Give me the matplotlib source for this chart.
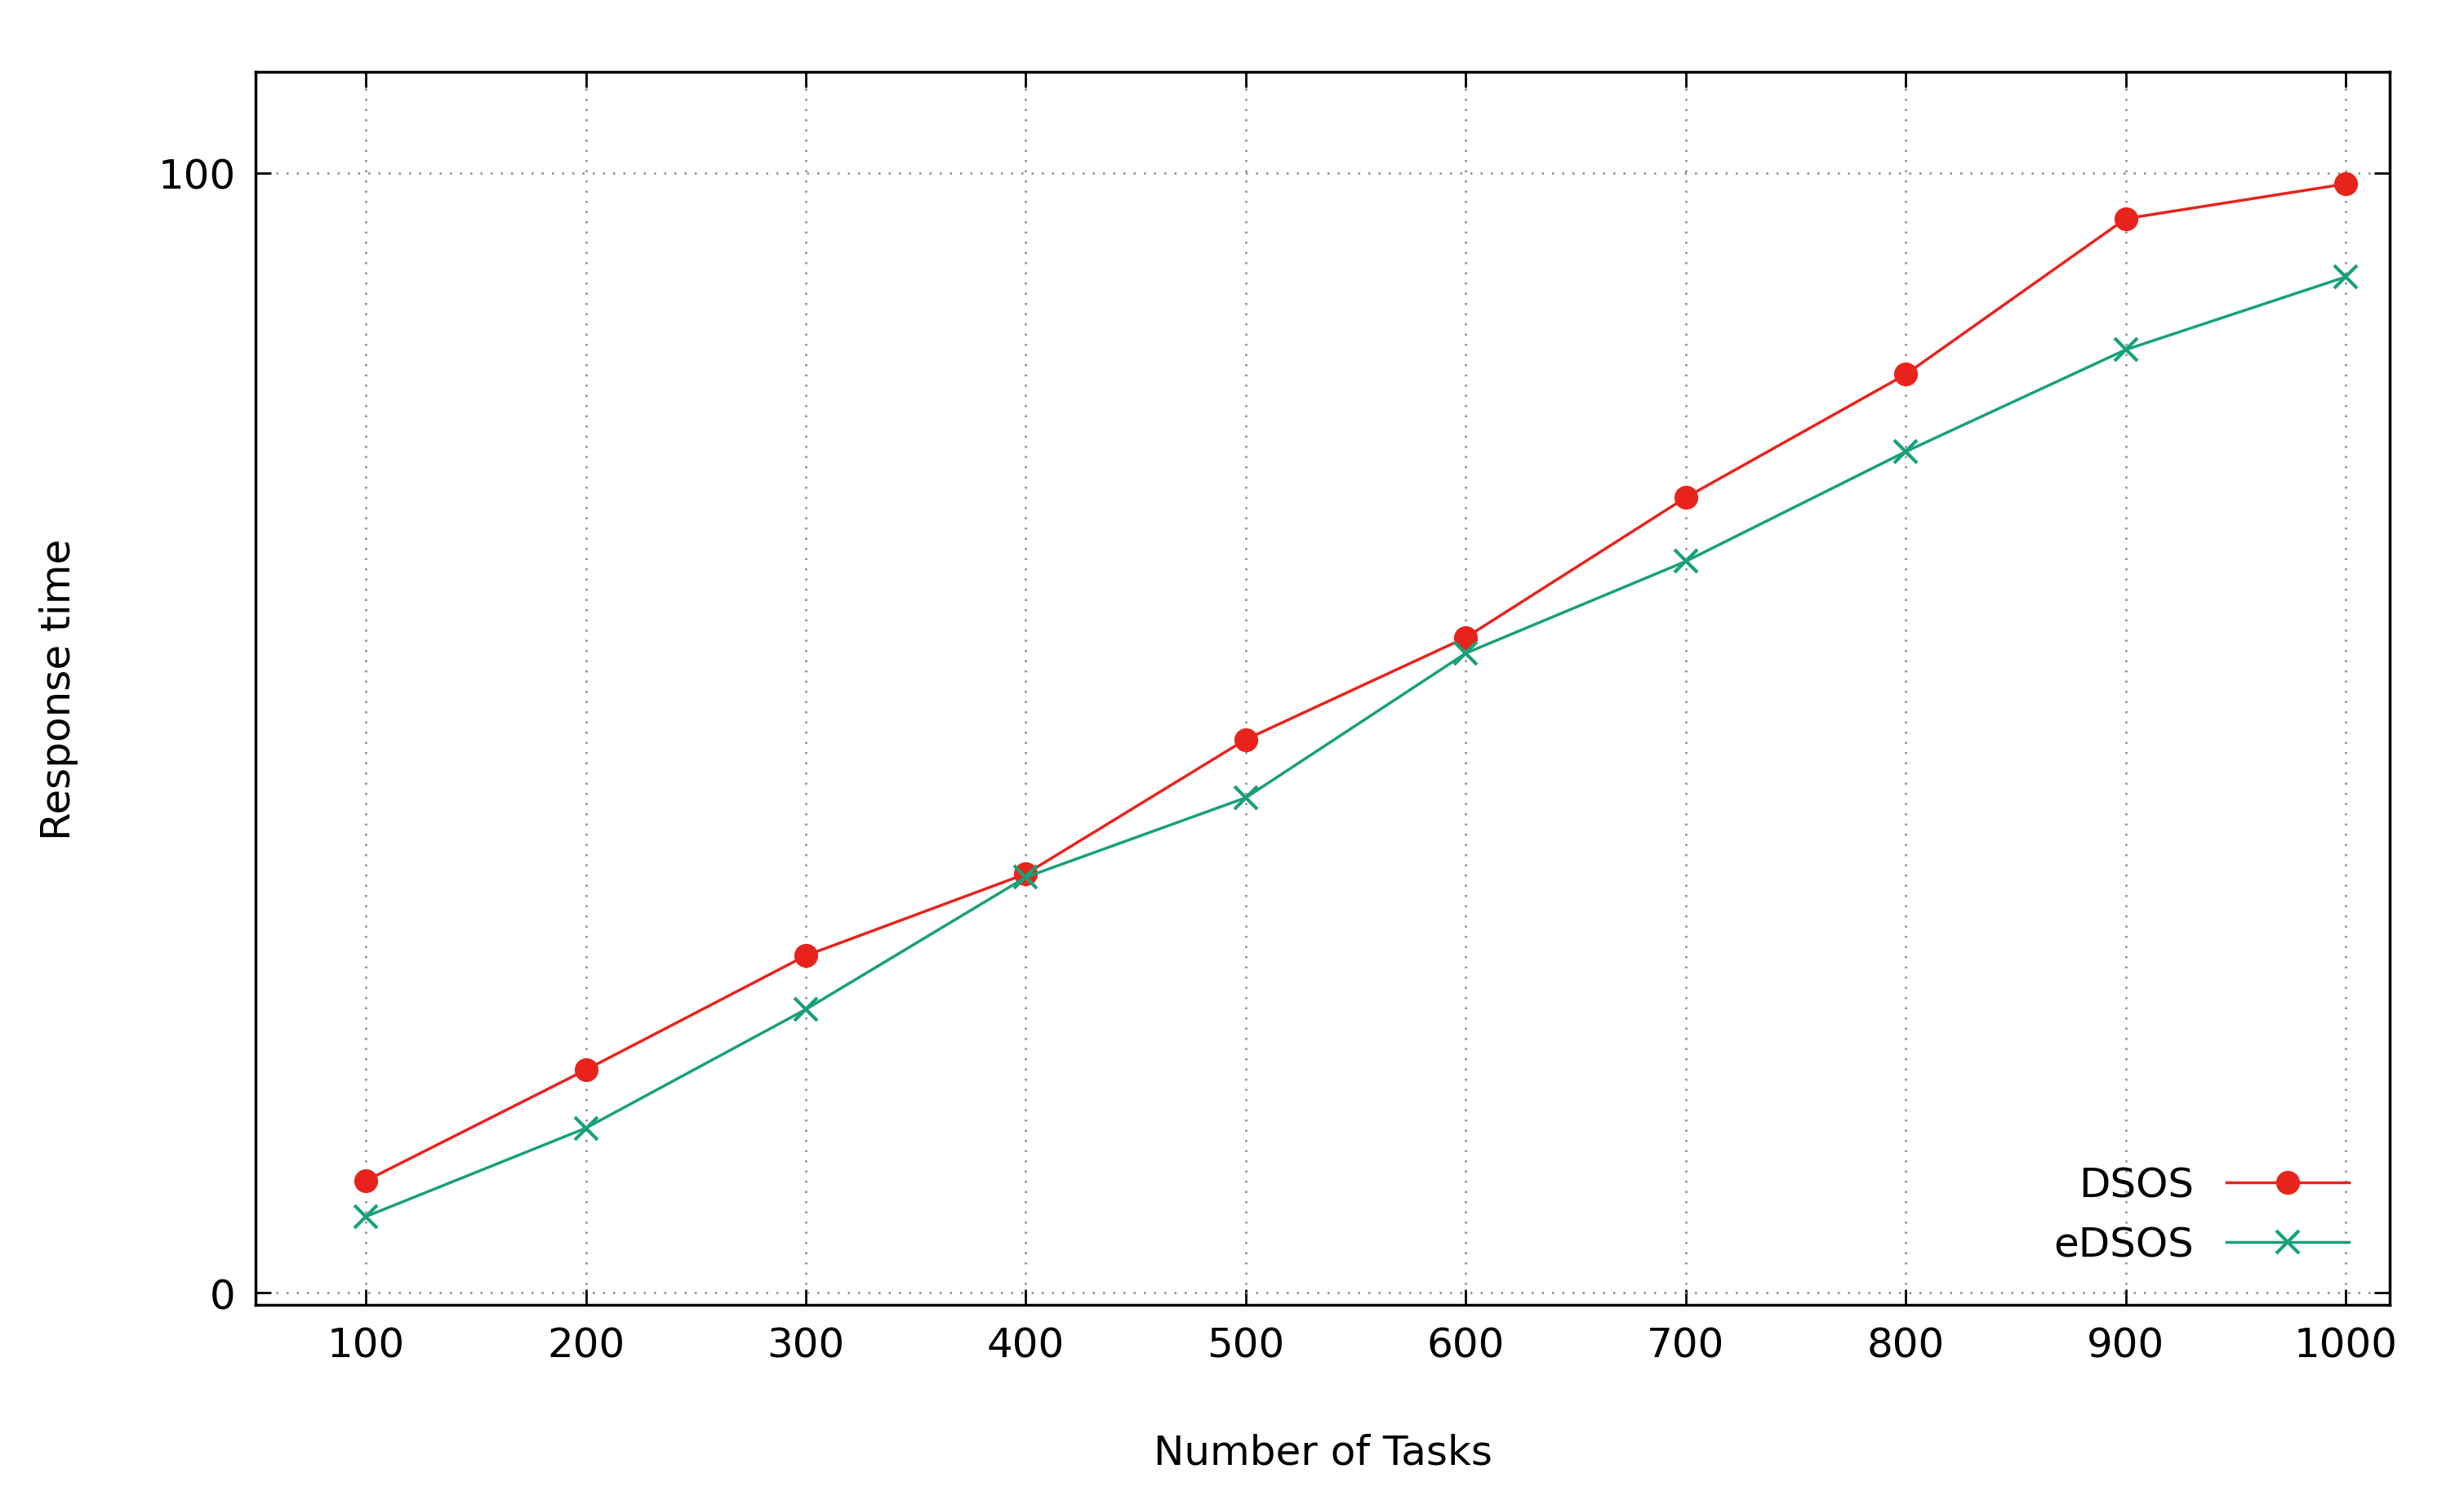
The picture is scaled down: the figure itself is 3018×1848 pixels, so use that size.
import matplotlib
matplotlib.use("Agg")
import matplotlib.pyplot as plt

tasks = [100, 200, 300, 400, 500, 600, 700, 800, 900, 1000]
dsos = [10, 19.9, 30.1, 37.4, 49.4, 58.5, 71, 82, 95.9, 99]
edsos = [6.8, 14.7, 25.3, 37.1, 44.2, 57.1, 65.3, 75.1, 84.2, 90.7]

fig = plt.figure(figsize=(30.18, 18.49), dpi=100)
ax = fig.add_axes([162/1560, 1-826/955, (1513-162)/1560, (826-46)/955])
fs = 36
ax.plot(tasks, dsos, color='#e8231c', lw=2.5, marker='o', ms=20, label='DSOS')
ax.plot(tasks, edsos, color='#17a07a', lw=2.5, marker='x', ms=20, mew=3, label='eDSOS')
ax.set_xlim(50, 1020)
ax.set_ylim(-1.1, 109)
ax.set_xticks(tasks)
ax.set_yticks([0, 100])
ax.tick_params(labelsize=fs, direction='in', length=14, width=2, top=True, right=True, pad=18)
ax.grid(True, linestyle=(0, (1, 4)), color='#888888', lw=1.8)
for s in ax.spines.values():
    s.set_linewidth(2.5)
ax.set_xlabel('Number of Tasks', fontsize=fs, labelpad=60)
ax.set_ylabel('Response time', fontsize=fs, labelpad=70)
leg = ax.legend(loc='lower right', fontsize=fs, frameon=False, markerfirst=False,
                handlelength=3, borderaxespad=0.6)
fig.savefig('out.png', dpi=100)
